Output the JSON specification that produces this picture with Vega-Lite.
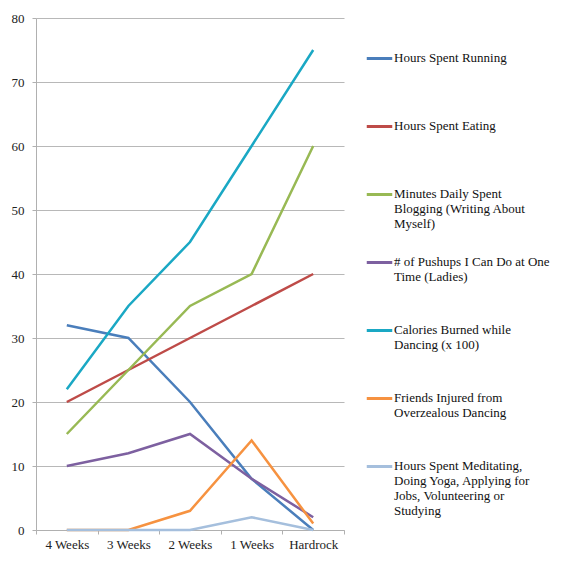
{
  "$schema": "https://vega.github.io/schema/vega-lite/v6.json",
  "width": 308,
  "height": 512,
  "autosize": {"type": "none"},
  "padding": {"left": 36, "top": 18, "right": 220, "bottom": 36},
  "background": "white",
  "config": {
    "view": {"stroke": null},
    "font": "Liberation Serif",
    "style": {"guide-label": {"lineHeight": 15}}
  },
  "data": {
    "values": [
      {"week": "4 Weeks", "series": "Hours Spent Running", "value": 32},
      {"week": "3 Weeks", "series": "Hours Spent Running", "value": 30},
      {"week": "2 Weeks", "series": "Hours Spent Running", "value": 20},
      {"week": "1 Weeks", "series": "Hours Spent Running", "value": 8},
      {"week": "Hardrock", "series": "Hours Spent Running", "value": 0},
      {"week": "4 Weeks", "series": "Hours Spent Eating", "value": 20},
      {"week": "3 Weeks", "series": "Hours Spent Eating", "value": 25},
      {"week": "2 Weeks", "series": "Hours Spent Eating", "value": 30},
      {"week": "1 Weeks", "series": "Hours Spent Eating", "value": 35},
      {"week": "Hardrock", "series": "Hours Spent Eating", "value": 40},
      {"week": "4 Weeks", "series": "Minutes Daily Spent Blogging (Writing About Myself)", "value": 15},
      {"week": "3 Weeks", "series": "Minutes Daily Spent Blogging (Writing About Myself)", "value": 25},
      {"week": "2 Weeks", "series": "Minutes Daily Spent Blogging (Writing About Myself)", "value": 35},
      {"week": "1 Weeks", "series": "Minutes Daily Spent Blogging (Writing About Myself)", "value": 40},
      {"week": "Hardrock", "series": "Minutes Daily Spent Blogging (Writing About Myself)", "value": 60},
      {"week": "4 Weeks", "series": "# of Pushups I Can Do at One Time (Ladies)", "value": 10},
      {"week": "3 Weeks", "series": "# of Pushups I Can Do at One Time (Ladies)", "value": 12},
      {"week": "2 Weeks", "series": "# of Pushups I Can Do at One Time (Ladies)", "value": 15},
      {"week": "1 Weeks", "series": "# of Pushups I Can Do at One Time (Ladies)", "value": 8},
      {"week": "Hardrock", "series": "# of Pushups I Can Do at One Time (Ladies)", "value": 2},
      {"week": "4 Weeks", "series": "Calories Burned while Dancing (x 100)", "value": 22},
      {"week": "3 Weeks", "series": "Calories Burned while Dancing (x 100)", "value": 35},
      {"week": "2 Weeks", "series": "Calories Burned while Dancing (x 100)", "value": 45},
      {"week": "1 Weeks", "series": "Calories Burned while Dancing (x 100)", "value": 60},
      {"week": "Hardrock", "series": "Calories Burned while Dancing (x 100)", "value": 75},
      {"week": "4 Weeks", "series": "Friends Injured from Overzealous Dancing", "value": 0},
      {"week": "3 Weeks", "series": "Friends Injured from Overzealous Dancing", "value": 0},
      {"week": "2 Weeks", "series": "Friends Injured from Overzealous Dancing", "value": 3},
      {"week": "1 Weeks", "series": "Friends Injured from Overzealous Dancing", "value": 14},
      {"week": "Hardrock", "series": "Friends Injured from Overzealous Dancing", "value": 1},
      {"week": "4 Weeks", "series": "Hours Spent Meditating, Doing Yoga, Applying for Jobs, Volunteering or Studying", "value": 0},
      {"week": "3 Weeks", "series": "Hours Spent Meditating, Doing Yoga, Applying for Jobs, Volunteering or Studying", "value": 0},
      {"week": "2 Weeks", "series": "Hours Spent Meditating, Doing Yoga, Applying for Jobs, Volunteering or Studying", "value": 0},
      {"week": "1 Weeks", "series": "Hours Spent Meditating, Doing Yoga, Applying for Jobs, Volunteering or Studying", "value": 2},
      {"week": "Hardrock", "series": "Hours Spent Meditating, Doing Yoga, Applying for Jobs, Volunteering or Studying", "value": 0}
    ]
  },
  "mark": {"type": "line", "strokeWidth": 2.5},
  "encoding": {
    "x": {
      "field": "week",
      "type": "ordinal",
      "sort": null,
      "bandPosition": 0.5,
      "scale": {"type": "band", "paddingInner": 0, "paddingOuter": 0},
      "axis": {
        "title": null,
        "labelAngle": 0,
        "labelFontSize": 13,
        "labelColor": "#222",
        "labelPadding": 4,
        "tickBand": "extent",
        "tickSize": 4,
        "tickColor": "#b0b0b0",
        "domainColor": "#b0b0b0",
        "grid": false
      }
    },
    "y": {
      "field": "value",
      "type": "quantitative",
      "scale": {"domain": [0, 80], "nice": false},
      "axis": {
        "title": null,
        "values": [0, 10, 20, 30, 40, 50, 60, 70, 80],
        "labelFontSize": 13,
        "labelColor": "#222",
        "labelPadding": 8,
        "tickSize": 4,
        "tickColor": "#b0b0b0",
        "domainColor": "#b0b0b0",
        "gridColor": "#b8b8b8",
        "gridWidth": 1.2
      }
    },
    "color": {
      "field": "series",
      "type": "nominal",
      "scale": {
        "domain": [
          "Hours Spent Running",
          "Hours Spent Eating",
          "Minutes Daily Spent Blogging (Writing About Myself)",
          "# of Pushups I Can Do at One Time (Ladies)",
          "Calories Burned while Dancing (x 100)",
          "Friends Injured from Overzealous Dancing",
          "Hours Spent Meditating, Doing Yoga, Applying for Jobs, Volunteering or Studying"
        ],
        "range": ["#4a7ebb", "#be4b48", "#98b954", "#7d60a0", "#1aa8c4", "#f69240", "#a5bfdd"]
      },
      "legend": {
        "title": null,
        "orient": "none",
        "legendX": 329,
        "legendY": 26,
        "padding": 0,
        "symbolType": "stroke",
        "symbolSize": 650,
        "symbolStrokeWidth": 3,
        "labelOffset": 0,
        "labelFontSize": 13,
        "labelColor": "#111",
        "labelBaseline": "top",
        "labelLimit": 220,
        "rowPadding": 2,
        "labelExpr": "datum.label == 'Minutes Daily Spent Blogging (Writing About Myself)' ? ['Minutes Daily Spent', 'Blogging (Writing About', 'Myself)', ''] : datum.label == '# of Pushups I Can Do at One Time (Ladies)' ? ['# of Pushups I Can Do at One', 'Time (Ladies)', '', ''] : datum.label == 'Calories Burned while Dancing (x 100)' ? ['Calories Burned while', 'Dancing (x 100)', '', ''] : datum.label == 'Friends Injured from Overzealous Dancing' ? ['Friends Injured from', 'Overzealous Dancing', '', ''] : datum.label == 'Hours Spent Meditating, Doing Yoga, Applying for Jobs, Volunteering or Studying' ? ['Hours Spent Meditating,', 'Doing Yoga, Applying for', 'Jobs, Volunteering or', 'Studying'] : [datum.label, '', '', '']",
        "encode": {"labels": {"update": {"dy": {"value": -7}}}}
      }
    }
  }
}
